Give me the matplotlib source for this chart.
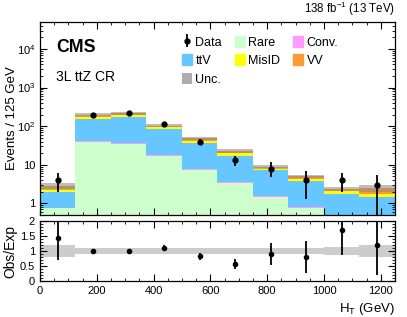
import numpy as np
import matplotlib
matplotlib.use("Agg")
from matplotlib import pyplot as plt
from matplotlib import ticker
from matplotlib.patches import Patch

plt.rcParams["font.family"] = ["Liberation Sans", "DejaVu Sans"]
plt.rcParams["mathtext.fontset"] = "custom"
plt.rcParams["mathtext.rm"] = "Liberation Sans"
plt.rcParams["mathtext.it"] = "Liberation Sans:italic"

# binning in H_T (GeV)
edges = [0, 125, 250, 375, 500, 625, 750, 875, 1000, 1125, 1250]

# stacked backgrounds (bottom to top)
rare = [0.75, 39, 34, 17, 7.5, 3.3, 1.5, 0.78, 0.3, 0.25]
conv = [0.03, 2.0, 2.0, 1.0, 0.4, 0.2, 0.08, 0.04, 0.02, 0.02]
ttv = [1.22, 116, 136, 66, 29, 13.8, 5.8, 2.9, 1.48, 1.23]
misid = [0.35, 20, 22, 11, 5.0, 2.5, 0.8, 0.5, 0.25, 0.2]
vv = [0.45, 21, 20, 9, 7.0, 3.2, 0.8, 0.8, 0.3, 0.8]

# relative uncertainty of total prediction
unc_rel = [0.2, 0.09, 0.09, 0.09, 0.09, 0.11, 0.11, 0.11, 0.12, 0.19]

# observed data
data = [4, 195, 214, 114, 40, 13, 8, 4, 4, 3]
data_err_lo = [2.0, 14, 15, 11, 6.0, 3.6, 3.3, 2.7, 2.0, 2.5]
data_err_hi = [2.1, 14, 15, 11, 6.0, 3.6, 3.5, 2.7, 2.1, 2.5]

edges = np.array(edges, dtype=float)
centers = 0.5 * (edges[:-1] + edges[1:])

fig = plt.figure(figsize=(4.07, 3.17), dpi=100)
ax = fig.add_axes([0.0983, 0.3218, 0.872, 0.6088])
rax = fig.add_axes([0.0983, 0.1136, 0.872, 0.1892])

components = [
    ("Rare", rare, "#ccffcc"),
    ("Conv.", conv, "#ff99ff"),
    ("ttV", ttv, "#66c6ff"),
    ("MisID", misid, "#ffff00"),
    ("VV", vv, "#ff9933"),
]

base = np.zeros(len(centers))
for name, vals, color in components:
    vals = np.array(vals, dtype=float)
    ax.stairs(base + vals, edges, baseline=base, fill=True, color=color, lw=0)
    base = base + vals
total = base

unc = np.array(unc_rel) * total
ax.stairs(total + unc, edges, baseline=total - unc, fill=True,
          color="#888888", alpha=0.55, lw=0)

data_handle = ax.errorbar(centers, data, yerr=[data_err_lo, data_err_hi], fmt="o",
                          color="black", ms=3.5, elinewidth=1.3, capsize=0)

ax.set_yscale("log")
ax.set_ylim(0.5, 5e4)
ax.set_xlim(0, 1250)


def log_fmt(v, pos):
    if v in (1, 10):
        return f"{int(v)}"
    return f"$10^{{{int(round(np.log10(v)))}}}$"


ax.yaxis.set_major_locator(ticker.LogLocator(base=10, numticks=10))
ax.yaxis.set_major_formatter(ticker.FuncFormatter(log_fmt))
ax.yaxis.set_minor_locator(ticker.LogLocator(base=10, subs=np.arange(2, 10), numticks=20))
ax.yaxis.set_minor_formatter(ticker.NullFormatter())
ax.xaxis.set_major_locator(ticker.MultipleLocator(200))
ax.xaxis.set_minor_locator(ticker.MultipleLocator(50))
ax.tick_params(axis="x", labelbottom=False)
ax.set_ylabel("Events / 125 GeV", fontsize=9.5)
ax.yaxis.set_label_coords(-0.063, 0.5)

for a in (ax, rax):
    a.tick_params(which="both", direction="in", top=True, right=True, labelsize=8)
    a.tick_params(which="major", length=5, width=0.8)
    a.tick_params(which="minor", length=2.5, width=0.6)
    for s in a.spines.values():
        s.set_linewidth(0.9)

ax.text(0.045, 0.87, "CMS", transform=ax.transAxes, fontsize=12.8,
        fontweight="bold", va="center")
ax.text(0.045, 0.715, "3L ttZ CR", transform=ax.transAxes, fontsize=10,
        va="center")
ax.text(1.0, 1.02, "138 fb$^{-1}$ (13 TeV)", transform=ax.transAxes,
        fontsize=8.3, ha="right", va="bottom")

handles = [
    data_handle,
    Patch(color="#66c6ff"),
    Patch(facecolor="#999999", alpha=0.8, lw=0),
    Patch(color="#ccffcc"),
    Patch(color="#ffff00"),
    Patch(color="#ff99ff"),
    Patch(color="#ff9933"),
]
labels = ["Data", "ttV", "Unc.", "Rare", "MisID", "Conv.", "VV"]
ax.legend(handles, labels, ncol=3, loc="upper left", bbox_to_anchor=(0.385, 0.955),
          frameon=False, fontsize=9, handlelength=0.8, handleheight=1.0,
          handletextpad=0.3, columnspacing=1.0, labelspacing=0.45,
          borderaxespad=0)

# ratio panel
ratio = np.array(data) / total
r_lo = np.array(data_err_lo) / total
r_hi = np.array(data_err_hi) / total
rel = np.array(unc_rel)
rax.stairs(1 + rel, edges, baseline=1 - rel, fill=True, color="#cccccc", lw=0)
rax.errorbar(centers, ratio, yerr=[r_lo, r_hi], fmt="o", color="black",
             ms=3, elinewidth=1.3, capsize=0)
rax.set_xlim(0, 1250)
rax.set_ylim(0, 2)
rax.yaxis.set_major_locator(ticker.MultipleLocator(0.5))
rax.yaxis.set_major_formatter(ticker.FuncFormatter(lambda v, p: f"{v:g}"))
rax.yaxis.set_minor_locator(ticker.MultipleLocator(0.1))
rax.xaxis.set_major_locator(ticker.MultipleLocator(200))
rax.xaxis.set_minor_locator(ticker.MultipleLocator(50))
rax.set_ylabel("Obs/Exp", fontsize=10)
rax.yaxis.set_label_coords(-0.063, 0.5)
rax.set_xlabel("H$_\\mathrm{T}$ (GeV)", fontsize=9.5, loc="right")

fig.savefig("out.png", dpi=100)
